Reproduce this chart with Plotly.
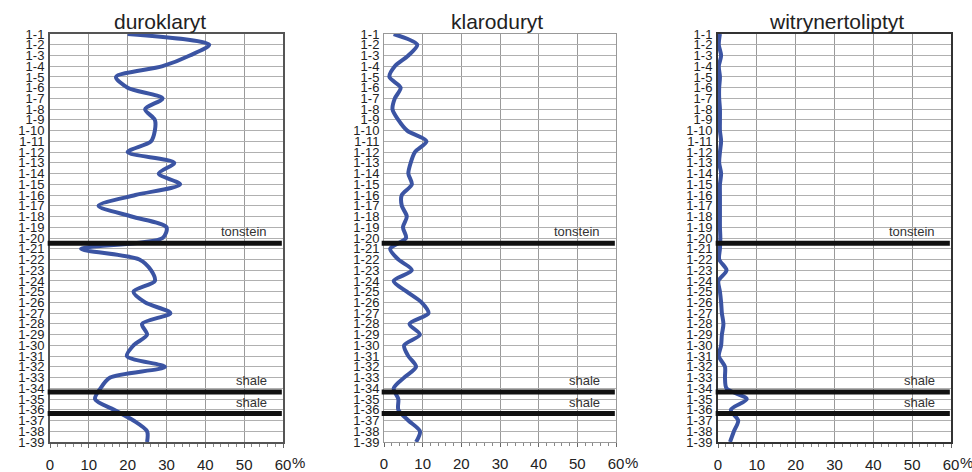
import plotly.graph_objects as go

# ---- data ----
samples = [f"1-{i}" for i in range(1, 40)]
sample_pos = list(range(1, 40))

duroklaryt = [20, 41, 36, 29, 17, 20, 29, 24.5, 27, 27, 26, 20, 32, 28, 33.5, 22, 12.5, 21,
              30, 29, 8, 23, 26, 27, 21.5, 24.5, 31, 23.7, 25, 21.5, 19.8, 29.6, 15.5, 13,
              11.6, 16.5, 21.5, 25, 25]
klaroduryt = [2.5, 8.6, 6.3, 2.8, 1.4, 4.3, 2.8, 2.2, 3.7, 6.0, 11, 8, 6.9, 6.3, 7.2, 4.6,
              4.6, 5.9, 4.9, 5.7, 1.6, 3.7, 7.2, 2.5, 5.9, 9.7, 11.5, 6.6, 9.3, 5.2, 6.3, 8.3,
              5.2, 2.5, 3.7, 3.7, 6.3, 9.3, 8.3]
witrynertoliptyt = [0.5, 0.2, 0.8, 0.2, 0.5, 0.3, 0.3, 0.5, 0.5, 0.5, 0.8, 0.5, 0.3, 0.8,
                    0.5, 0.5, 0.5, 0.5, 0.5, 0.6, 0.5, 0.3, 2.2, 0.1, 0.5, 0.8, 1.0, 1.4,
                    1.0, 0.8, 0.2, 1.8, 1.8, 2.2, 7.4, 3.3, 5.2, 4.1, 3.1]

panel_titles = ["duroklaryt", "klaroduryt", "witrynertoliptyt"]
series = [duroklaryt, klaroduryt, witrynertoliptyt]

# layer boundaries (position on the sample axis) and their labels
boundaries = [20.5, 34.35, 36.35]
boundary_labels = ["tonstein", "shale", "shale"]

x_ticks = [0, 10, 20, 30, 40, 50, 60]
x_ticktext = ["0", "10", "20", "30", "40", "50", "60"]

# ---- layout helpers (pixels) ----
W, H = 972, 472
panels_px = [(50, 283), (384, 616), (718, 951)]
title_cx = [160, 497, 836]
top_px, bot_px = 34, 442
frame_colors = ["#555555", "#999999", "#333333"]
frame_widths = [2, 1, 2]

BLUE = "#3b54a3"
FONT = "Liberation Sans, Arial, sans-serif"

fig = go.Figure()
ydom = [1 - bot_px / H, 1 - top_px / H]

for i, (vals, title) in enumerate(zip(series, panel_titles)):
    k = "" if i == 0 else str(i + 1)
    x0, x1 = panels_px[i]
    fig.add_trace(go.Scatter(
        x=vals, y=sample_pos, mode="lines",
        line=dict(color=BLUE, width=4, shape="spline", smoothing=0.8),
        xaxis="x" + k, yaxis="y" + k, showlegend=False, hoverinfo="x+y"))
    fig.update_layout(**{
        "xaxis" + k: dict(
            domain=[x0 / W, x1 / W], anchor="y" + k, range=[0, 60],
            tickvals=x_ticks, ticktext=x_ticktext, automargin=False,
            showgrid=True, gridcolor="#9a9a9a", gridwidth=1,
            zeroline=False, showline=True, mirror=True,
            linecolor=frame_colors[i], linewidth=frame_widths[i],
            ticks="outside", ticklen=4, tickcolor="#666",
            minor=dict(dtick=2, ticks="outside", ticklen=3, tickcolor="#888", showgrid=False),
            tickfont=dict(family=FONT, size=15, color="#222"),
            ticklabelstandoff=4, fixedrange=True),
        "yaxis" + k: dict(
            domain=ydom, anchor="x" + k, range=[39, 1], automargin=False,
            tickvals=sample_pos, ticktext=samples,
            showgrid=True, gridcolor="#b0b0b0", gridwidth=1,
            zeroline=False, showline=True, mirror=True,
            linecolor=frame_colors[i], linewidth=frame_widths[i],
            ticks="", tickfont=dict(family=FONT, size=13, color="#222"),
            ticklabelstandoff=1, fixedrange=True),
    })
    # panel title
    fig.add_annotation(text=title, x=title_cx[i] / W, xref="paper",
                       y=ydom[1], yref="paper", yanchor="bottom", xanchor="center",
                       showarrow=False, font=dict(family=FONT, size=21, color="#222"),
                       yshift=-1)
    # "%" after 60
    fig.add_annotation(text="%", x=60, xref="x" + k, y=1 - 462 / H, yref="paper",
                       xanchor="left", yanchor="middle", xshift=7,
                       showarrow=False, font=dict(family=FONT, size=15, color="#222"))
    # layer boundaries
    for b, lab in zip(boundaries, boundary_labels):
        fig.add_shape(type="line", xref=f"x{k} domain", yref="y" + k,
                      x0=-0.01, x1=0.995, y0=b, y1=b,
                      line=dict(color="#111111", width=5))
        fig.add_annotation(text=lab, xref=f"x{k} domain", yref="y" + k,
                           x=0.94, y=b, xanchor="right", yanchor="bottom", yshift=2,
                           showarrow=False, font=dict(family=FONT, size=13, color="#333"))

fig.update_layout(width=W, height=H, margin=dict(l=0, r=0, t=0, b=0),
                  plot_bgcolor="white", paper_bgcolor="white")

fig.write_html("out.html", config={"displayModeBar": False},
               post_script="document.body.style.margin='0';document.body.style.overflow='hidden';")
